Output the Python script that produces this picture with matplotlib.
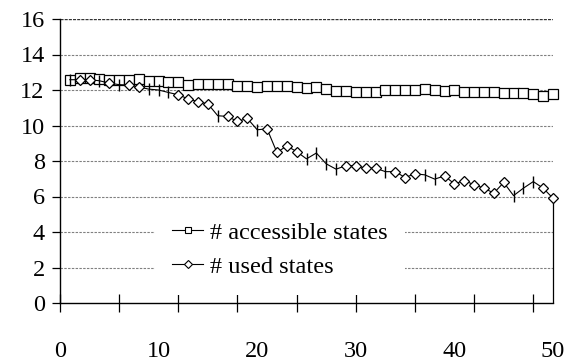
import numpy as np
import matplotlib
matplotlib.use("Agg")
import matplotlib.pyplot as plt
from matplotlib.lines import Line2D

plt.rcParams["font.family"] = ["Liberation Serif", "DejaVu Serif"]

steps = list(range(1, 51))

accessible = [
    12.58, 12.65, 12.65, 12.62, 12.54, 12.54, 12.54, 12.60, 12.48, 12.48,
    12.45, 12.45, 12.27, 12.32, 12.32, 12.32, 12.32, 12.23, 12.23, 12.17,
    12.20, 12.21, 12.21, 12.17, 12.11, 12.17, 12.05, 11.96, 11.96, 11.88,
    11.88, 11.88, 12.01, 12.01, 12.01, 12.01, 12.07, 12.01, 11.96, 12.01,
    11.88, 11.88, 11.88, 11.88, 11.83, 11.83, 11.83, 11.77, 11.69, 11.79,
]

used = [
    12.58, 12.58, 12.58, 12.52, 12.39, 12.30, 12.28, 12.17, 12.05, 12.00,
    11.86, 11.73, 11.50, 11.34, 11.22, 10.55, 10.51, 10.23, 10.40, 9.76,
    9.81, 8.48, 8.85, 8.53, 8.12, 8.45, 7.84, 7.54, 7.74, 7.73,
    7.60, 7.60, 7.40, 7.40, 7.07, 7.28, 7.22, 6.98, 7.16, 6.71,
    6.90, 6.66, 6.47, 6.19, 6.79, 6.05, 6.47, 6.84, 6.47, 5.90,
]

# steps where the used-states point is drawn as a bar instead of a diamond
used_bar_steps = [1, 4, 6, 9, 10, 11, 16, 20, 25, 26, 27, 28, 33, 37, 38, 46, 47, 48]

y_ticks = [0, 2, 4, 6, 8, 10, 12, 14, 16]
x_labels = [0, 10, 20, 30, 40, 50]
labels = ["# accessible states", "# used states"]

FS = 17.5

fig = plt.figure(figsize=(5.67, 3.64), dpi=100)
ax = fig.add_axes([60 / 567, 61 / 364, 493 / 567, 284 / 364])

ax.set_xlim(0, 50)
ax.set_ylim(0, 16)

# horizontal grid, top line darker
for y in y_ticks[1:-1]:
    ax.axhline(y, color="#808080", lw=0.8, ls=(0, (2.2, 1.2)), zorder=1)
ax.axhline(y_ticks[-1], color="#333333", lw=1.0, ls=(0, (2.2, 0.8)), zorder=1)

steps_arr = np.array(steps)
used_arr = np.array(used)
is_bar = np.isin(steps_arr, used_bar_steps)

ax.plot(steps, accessible, color="black", lw=0.8, marker="s", ms=6.5,
        mfc="white", mec="black", mew=0.9, zorder=3, clip_on=False)

ax.plot(steps, used, color="black", lw=0.8, zorder=4)
ax.plot(steps_arr[~is_bar], used_arr[~is_bar], ls="none", marker="D", ms=5.6,
        mfc="white", mec="black", mew=0.9, zorder=5, clip_on=False)
ax.plot(steps_arr[is_bar], used_arr[is_bar], ls="none", marker="|", ms=8,
        mec="black", mew=1.0, zorder=5)
ax.vlines(steps[-1], 0, used[-1], color="black", lw=0.9, zorder=4, clip_on=False)

for side in ["top", "right"]:
    ax.spines[side].set_visible(False)
ax.spines["left"].set_linewidth(1.0)
ax.spines["bottom"].set_linewidth(1.0)

ax.set_yticks(y_ticks)
ax.tick_params(axis="y", direction="out", length=6, width=0.9, pad=5, labelsize=FS)

# tick marks every 6 steps, value labels every 10 written underneath
ax.set_xticks(np.arange(0, 50, 6))
ax.set_xticklabels([])
ax.tick_params(axis="x", direction="inout", length=13, width=0.9)
for v in x_labels:
    ax.text(v, -0.17, str(v), transform=ax.get_xaxis_transform(),
            ha="center", va="center", fontsize=FS)

handles = [
    Line2D([], [], color="black", lw=0.8, marker="s", ms=5, mfc="white", mec="black", mew=0.8),
    Line2D([], [], color="black", lw=0.8, marker="D", ms=4, mfc="white", mec="black", mew=0.8),
]
leg = ax.legend(handles, labels, loc="center left", bbox_to_anchor=(0.193, 0.187),
                borderaxespad=0, fontsize=FS, frameon=True, fancybox=False,
                handlelength=1.28, handletextpad=0.29, labelspacing=0.5,
                borderpad=0.7)
leg.get_frame().set_facecolor("white")
leg.get_frame().set_edgecolor("none")
leg.get_frame().set_alpha(1.0)
leg.set_zorder(6)

fig.savefig("out.png", dpi=100)
